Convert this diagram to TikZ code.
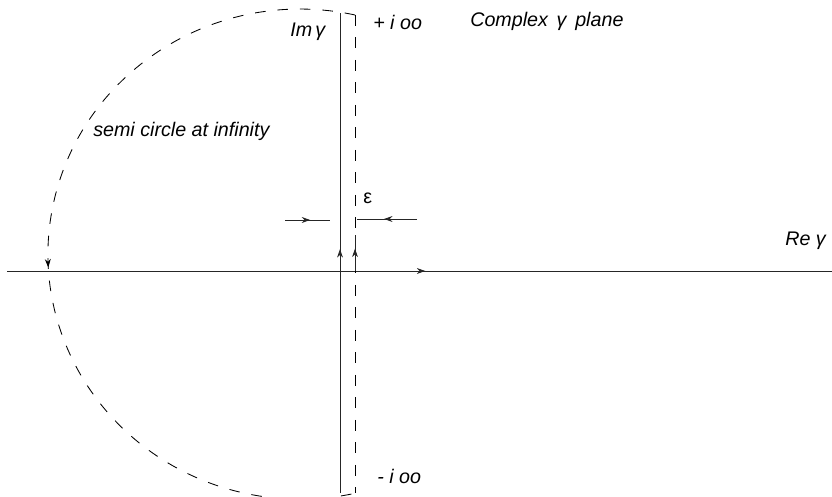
\documentclass[tikz,border=0pt]{standalone}
\usepackage{fontspec}
\setmainfont{Liberation Sans}
\usetikzlibrary{arrows.meta,decorations.markings}

\tikzset{
  ln/.style={line width=0.6pt, black!85},
  dsh/.style={line width=0.6pt, black, dash pattern=on 7.5pt off 8.5pt},
  midarrow/.style={postaction={decorate}, decoration={markings,
      mark=at position #1 with {\arrow{Stealth[length=6pt,width=4.2pt]}}}},
  lbl/.style={font=\itshape\fontsize{14}{16}\selectfont, inner sep=0pt, anchor=base west}
}

\begin{document}
\begin{tikzpicture}[x=0.025cm, y=-0.025cm]
\useasboundingbox (0,0) rectangle (832,497);
% axes
\coordinate (reL) at (7,271);
\coordinate (reR) at (832,271);
\coordinate (imB) at (340,493);
\coordinate (imT) at (340,13);
\draw[ln, midarrow=0.507] (reL) -- (reR);
\draw[ln, midarrow=0.508] (imB) -- (imT);
% shifted line and the semi circle
\coordinate (cT) at (355,15);
\coordinate (cB) at (355,493);
\coordinate (cA) at (355,271);
\coordinate (cU) at (355,235);
\draw[dsh] (cT) -- (cB);
\draw[ln, midarrow=0.62] (cA) -- (cU);
\draw[dsh, midarrow=0.515] (cT) arc[start angle=77.4, end angle=282.6, x radius=6.3cm, y radius=6.125cm];
% epsilon arrows
\coordinate (eL1) at (285,220);
\coordinate (eL2) at (330,220);
\coordinate (eR1) at (417,219);
\coordinate (eR2) at (357,219);
\draw[ln, midarrow=0.56] (eL1) -- (eL2);
\draw[ln, midarrow=0.55] (eR1) -- (eR2);
% labels
\node[lbl] (imlab) at (290,37) {Im\,γ};
\node[lbl] (pinf) at (373,30) {+ i oo};
\node[lbl] (minf) at (377,483) {- i oo};
\node[lbl] (plane) at (470,27) {Complex\ \,γ\ \,plane};
\node[lbl] (semi) at (93,137) {semi circle at infinity};
\node[lbl] (relab) at (785,246) {Re γ};
\node[lbl, font=\fontsize{14}{16}\selectfont] (eps) at (363,204) {ε};
\end{tikzpicture}
\end{document}
